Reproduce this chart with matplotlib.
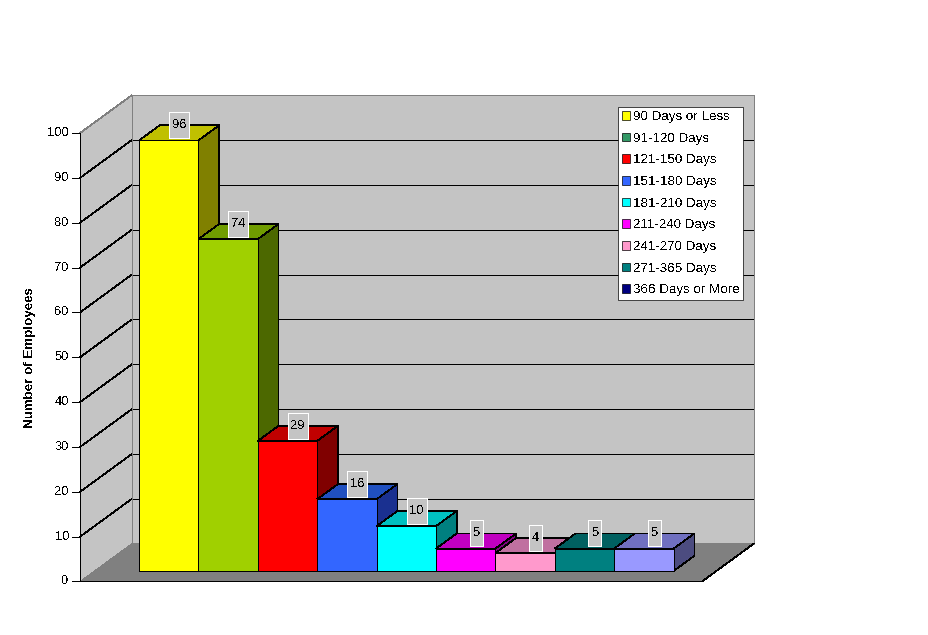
import matplotlib
matplotlib.use('Agg')
from matplotlib import pyplot as plt
from matplotlib.patches import Polygon, Patch, Rectangle

categories = ['90 Days or Less', '91-120 Days', '121-150 Days', '151-180 Days',
              '181-210 Days', '211-240 Days', '241-270 Days', '271-365 Days',
              '366 Days or More']
values = [96, 74, 29, 16, 10, 5, 4, 5, 5]
front_colors = ['#ffff00', '#a0d000', '#ff0000', '#3366ff', '#00ffff',
                '#ff00ff', '#ff99cc', '#008080', '#9999ff']
top_colors = ['#c0c000', '#709c00', '#c00000', '#2050c0', '#00c0c0',
              '#c000c0', '#c070a0', '#006060', '#7070c0']
side_colors = ['#808000', '#4c6800', '#800000', '#1a3090', '#008080',
               '#800080', '#804d66', '#004040', '#4c4c80']
legend_colors = ['#ffff00', '#339966', '#ff0000', '#3366ff', '#00ffff',
                 '#ff00ff', '#ff99cc', '#008080', '#000080']
value_ticks = list(range(0, 101, 10))
ylabel = 'Number of Employees'

WALL = '#c4c4c4'
FLOOR = '#808080'
LW = 0.5

# scale: one category = 59.4 px, one employee = 4.485 px
PX_X = 1 / 59.4
PX_Y = 1 / 4.485
DX = 20.8 * PX_X   # bar depth on screen
DY = 15.2 * PX_Y
FRONT = -0.69      # floor front edge, in bar depths
BACK = 1.8         # back wall, in bar depths
LEFT = -0.75       # side wall, in categories
RIGHT = 9.72

plt.rcParams['font.family'] = 'Liberation Sans'
plt.rcParams['text.antialiased'] = False

fig = plt.figure(figsize=(9.29, 6.35), dpi=100)
ax = fig.add_axes([0, 0, 1, 1])
ax.set_xlim(-139 * PX_X, (929 - 139) * PX_X)
ax.set_ylim((571 - 635) * PX_Y, 571 * PX_Y)
ax.axis('off')


def pt(cat, val, depth=0.0):
    # oblique projection: depth shifts up and to the right
    return (cat + depth * DX, val + depth * DY)


def face(points, color, edge='none', z=1):
    ax.add_patch(Polygon(points, closed=True, facecolor=color, edgecolor=edge,
                         linewidth=LW, antialiased=False, zorder=z))


def line(points, color='black', z=2):
    xs, ys = zip(*points)
    ax.plot(xs, ys, color=color, linewidth=LW, antialiased=False,
            solid_capstyle='butt', zorder=z)


# walls and floor
face([pt(LEFT, 0, BACK), pt(RIGHT, 0, BACK), pt(RIGHT, 100, BACK), pt(LEFT, 100, BACK)], WALL)
face([pt(LEFT, 0, FRONT), pt(LEFT, 0, BACK), pt(LEFT, 100, BACK), pt(LEFT, 100, FRONT)], WALL)
face([pt(LEFT, 0, FRONT), pt(RIGHT, 0, FRONT), pt(RIGHT, 0, BACK), pt(LEFT, 0, BACK)], FLOOR)

# separate segments so the straight ones snap to one pixel
for v in value_ticks[1:-1]:
    line([pt(LEFT, v, FRONT), pt(LEFT, v, BACK)])
    line([pt(LEFT, v, BACK), pt(RIGHT, v, BACK)])
line([pt(LEFT, 100, FRONT), pt(LEFT, 100, BACK)], FLOOR)
line([pt(LEFT, 100, BACK), pt(RIGHT, 100, BACK)], FLOOR)
line([pt(RIGHT, 100, BACK), pt(RIGHT, 0, BACK)], FLOOR)
line([pt(LEFT, 0, BACK), pt(LEFT, 100, BACK)], FLOOR)
line([pt(RIGHT, 0, FRONT), pt(RIGHT, 0, BACK)])

# axis and ticks
line([pt(LEFT, 0, FRONT), pt(LEFT, 100, FRONT)], z=3)
line([pt(LEFT, 0, FRONT), pt(RIGHT, 0, FRONT)], z=3)
for v in value_ticks:
    x0, y0 = pt(LEFT, v, FRONT)
    line([(x0 - 8 * PX_X, y0), (x0, y0)], z=3)
    ax.text(x0 - 11 * PX_X, y0, str(v), ha='right', va='center', fontsize=9.3)

# bars
for i, v in enumerate(values):
    face([pt(i, v), pt(i + 1, v), pt(i + 1, v, 1), pt(i, v, 1)], top_colors[i], 'black', 4)
    face([pt(i + 1, 0), pt(i + 1, 0, 1), pt(i + 1, v, 1), pt(i + 1, v)], side_colors[i], 'black', 4)
    face([pt(i, 0), pt(i + 1, 0), pt(i + 1, v), pt(i, v)], front_colors[i], 'black', 4)

# value labels sit over the back edge of the bar top
for i, v in enumerate(values):
    cx = i + 0.5 + 0.5 * DX
    cy = v + DY
    w = (7 * len(str(v)) + 6) * PX_X
    h = 26 * PX_Y
    ax.add_patch(Rectangle((cx - w / 2, cy - h / 2), w, h, facecolor=WALL, edgecolor='white',
                           linewidth=LW, antialiased=False, zorder=6))
    ax.text(cx, cy, str(v), ha='center', va='center', fontsize=9.3, zorder=7)

ax.text(30 / 929, 1 - 358 / 635, ylabel, transform=ax.transAxes, rotation=90,
        ha='center', va='center', fontsize=9.6, fontweight='bold')

handles = [Patch(facecolor=c, edgecolor='black', linewidth=LW) for c in legend_colors]
leg = ax.legend(handles, categories, loc='upper left',
                bbox_to_anchor=(618 / 929, 1 - 107 / 635), borderaxespad=0,
                fontsize=9.6, fancybox=False, framealpha=1, edgecolor='black',
                handlelength=0.6, handleheight=0.6, handletextpad=0.2,
                labelspacing=0.725, borderpad=0.3)
leg.get_frame().set_linewidth(LW)
leg.set_zorder(8)

fig.savefig('out.png', dpi=100)
